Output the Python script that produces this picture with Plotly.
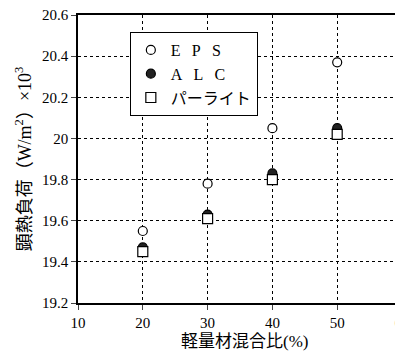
import plotly.graph_objects as go

mix_ratio = [20, 30, 40, 50]
eps = [19.55, 19.78, 20.05, 20.37]
alc = [19.47, 19.63, 19.83, 20.05]
perlite = [19.45, 19.61, 19.80, 20.02]
x_ticks = [10, 20, 30, 40, 50, 60]
y_ticks = [19.2, 19.4, 19.6, 19.8, 20.0, 20.2, 20.4, 20.6]
y_ticktext = ["19.2", "19.4", "19.6", "19.8", "20", "20.2", "20.4", "20.6"]
sp = "\u2002\u2009"
names = ["E" + sp + "P" + sp + "S", "A" + sp + "L" + sp + "C", "パーライト"]
x_title = "軽量材混合比(%)"

FONT = "Liberation Serif, DejaVu Serif, Noto Sans CJK JP"

fig = go.Figure()
fig.add_trace(go.Scatter(x=mix_ratio, y=eps, mode="markers", name=names[0],
                         marker=dict(symbol="circle", size=9, color="white",
                                     line=dict(color="black", width=1.2))))
fig.add_trace(go.Scatter(x=mix_ratio, y=alc, mode="markers", name=names[1],
                         marker=dict(symbol="circle", size=9, color="#222",
                                     line=dict(color="black", width=1.2))))
fig.add_trace(go.Scatter(x=mix_ratio, y=perlite, mode="markers", name=names[2],
                         marker=dict(symbol="square", size=10, color="white",
                                     line=dict(color="black", width=1.2))))

# page body has an 8px default margin; figure is sized/offset to compensate
fig.update_layout(
    width=395, height=348,
    margin=dict(l=70, r=1, t=7, b=53, autoexpand=False),
    paper_bgcolor="white", plot_bgcolor="white",
    font=dict(family=FONT, size=14, color="black"),
    showlegend=True,
    legend=dict(x=0.16, y=0.941, xanchor="left", yanchor="top",
                bordercolor="black", borderwidth=1, bgcolor="white",
                font=dict(size=16), itemwidth=30, tracegroupgap=0),
    xaxis=dict(range=[10, 60], tickvals=x_ticks, ticks="outside", ticklen=5,
               ticklabeloverflow="allow",
               showline=True, linecolor="black", linewidth=1.5, mirror=True,
               showgrid=True, gridcolor="black", griddash="dot", gridwidth=1,
               zeroline=False, tickfont=dict(size=15)),
    yaxis=dict(range=[19.2, 20.6], tickvals=y_ticks, ticktext=y_ticktext,
               ticks="outside", ticklen=5, tickfont=dict(size=15),
               ticklabeloverflow="allow",
               showline=True, linecolor="black", linewidth=1.5, mirror=True,
               showgrid=True, gridcolor="black", griddash="dot", gridwidth=1,
               zeroline=False,
               title=dict(text="顕熱負荷（W/m<sup>2</sup>）×10<sup>3</sup>", standoff=6,
                          font=dict(size=18))),
    annotations=[dict(text=x_title, xref="paper", yref="paper", x=0.515, y=-0.135,
                      xanchor="center", yanchor="middle", showarrow=False,
                      font=dict(size=17))],
)

fig.write_html("out.html")
